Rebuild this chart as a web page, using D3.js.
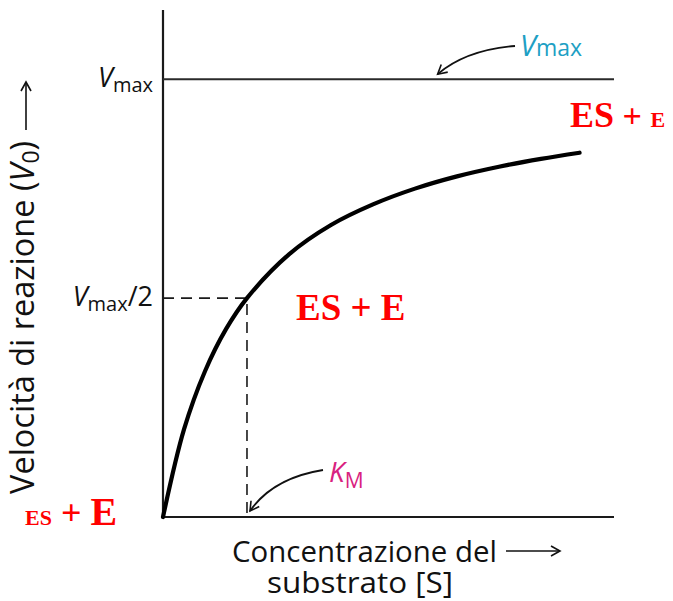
<!DOCTYPE html>
<html><head><meta charset="utf-8">
<script src="https://cdn.jsdelivr.net/npm/d3@7"></script>
<style>body{margin:0;background:#fff}</style>
</head><body>
<svg id="c" width="673" height="601"></svg>
<script>
// Substrate concentration in units of KM, velocity in units of Vmax
const substrate = [0, 0.25, 0.5, 0.75, 1, 1.5, 2, 2.5, 3, 3.5, 4, 4.5, 4.96];
const velocity  = [0, 0.2, 0.333, 0.429, 0.5, 0.6, 0.667, 0.714, 0.75, 0.778, 0.8, 0.818, 0.832];
const yTickValues = [1, 0.5];
const yTickLabels = [["V", "max", ""], ["V", "max", "/2"]];
const kmValue = 1;
const vmaxValue = 1;
const xLabelLines = ["Concentrazione del", "substrato [S]"];
const yLabelParts = ["Velocità di reazione (", "V", "0", ")"];
const xDomainMax = 5.37;
const yDomainMax = 1.158;

const svg = d3.select("#c");
const x = d3.scaleLinear().domain([0, xDomainMax]).range([163, 614]);
const y = d3.scaleLinear().domain([0, yDomainMax]).range([517, 10]);
const sans = "'Open Sans', sans-serif";
const serif = "'Liberation Serif', 'Times New Roman', serif";

const defs = svg.append("defs");
defs.append("marker").attr("id", "ah").attr("viewBox", "0 0 12 12")
  .attr("refX", 10).attr("refY", 6).attr("markerWidth", 12).attr("markerHeight", 12)
  .attr("markerUnits", "userSpaceOnUse").attr("orient", "auto")
  .append("path").attr("d", "M1,1 L10,6 L1,11").attr("fill", "none")
  .attr("stroke", "#111").attr("stroke-width", 1.6);

// Axes
svg.append("line").attr("x1", x(0)).attr("x2", x(0)).attr("y1", y(0) + 1).attr("y2", y(yDomainMax))
  .attr("stroke", "#1a1a1a").attr("stroke-width", 2.2);
svg.append("line").attr("x1", x(0) - 1).attr("x2", x(xDomainMax)).attr("y1", y(0)).attr("y2", y(0))
  .attr("stroke", "#1a1a1a").attr("stroke-width", 2.2);

// Vmax line
svg.append("line").attr("x1", x(0)).attr("x2", x(xDomainMax)).attr("y1", y(vmaxValue)).attr("y2", y(vmaxValue))
  .attr("stroke", "#2a2a2a").attr("stroke-width", 2);

// Dashed guides
svg.append("path")
  .attr("d", `M${x(0)},${y(vmaxValue/2)} L${x(kmValue)},${y(vmaxValue/2)} L${x(kmValue)},${y(0)}`)
  .attr("fill", "none").attr("stroke", "#1a1a1a").attr("stroke-width", 1.6)
  .attr("stroke-dasharray", "11,7");

// Curve
const pts = substrate.map((s, i) => [s, velocity[i]]);
svg.append("path").datum(pts)
  .attr("d", d3.line().x(d => x(d[0])).y(d => y(d[1])).curve(d3.curveCatmullRom.alpha(0.5)))
  .attr("fill", "none").attr("stroke", "#000").attr("stroke-width", 4.2).attr("stroke-linecap", "round");

// Y tick labels
yTickValues.forEach((v, i) => {
  const t = svg.append("text").attr("x", x(0) - 10).attr("y", y(v) + 8)
    .attr("text-anchor", "end").attr("font-family", sans).attr("fill", "#111").attr("font-size", 27);
  const L = yTickLabels[i];
  t.append("tspan").attr("font-style", "italic").text(L[0]);
  t.append("tspan").attr("font-size", 20).attr("dy", 5).text(L[1]);
  if (L[2]) t.append("tspan").attr("dy", -5).text(L[2]);
});

// Vmax annotation (teal)
const vt = svg.append("text").attr("x", 520).attr("y", 56).attr("font-family", sans)
  .attr("fill", "#1e9fc4").attr("font-size", 29);
vt.append("tspan").attr("font-style", "italic").text("V");
vt.append("tspan").attr("font-size", 23).attr("dy", 0).text("max");
svg.append("path").attr("d", `M515,46 Q466,50 ${x(3.27)},${y(vmaxValue) - 5}`)
  .attr("fill", "none").attr("stroke", "#111").attr("stroke-width", 1.8).attr("marker-end", "url(#ah)");

// KM annotation (magenta)
const kt = svg.append("text").attr("x", 329).attr("y", 482).attr("font-family", sans)
  .attr("fill", "#d9227f").attr("font-size", 28);
kt.append("tspan").attr("font-style", "italic").text("K");
kt.append("tspan").attr("font-size", 21).attr("dy", 6).text("M");
svg.append("path").attr("d", `M323,470 Q273,478 ${x(kmValue) + 3},${y(0) - 6}`)
  .attr("fill", "none").attr("stroke", "#111").attr("stroke-width", 1.8).attr("marker-end", "url(#ah)");

// X label
svg.append("text").attr("x", 232).attr("y", 562).attr("font-family", sans).attr("font-size", 29)
  .attr("fill", "#111").attr("textLength", 265).attr("lengthAdjust", "spacingAndGlyphs").text(xLabelLines[0]);
svg.append("text").attr("x", 267).attr("y", 593).attr("font-family", sans).attr("font-size", 29)
  .attr("fill", "#111").attr("textLength", 186).attr("lengthAdjust", "spacingAndGlyphs").text(xLabelLines[1]);
svg.append("line").attr("x1", 506).attr("x2", 560).attr("y1", 551).attr("y2", 551)
  .attr("stroke", "#111").attr("stroke-width", 1.6).attr("marker-end", "url(#ah)");

// Y label
const yl = svg.append("text").attr("transform", "translate(34,494) rotate(-90)")
  .attr("font-family", sans).attr("font-size", 32.5).attr("fill", "#111");
yl.append("tspan").text(yLabelParts[0]);
yl.append("tspan").attr("font-style", "italic").text(yLabelParts[1]);
yl.append("tspan").attr("font-size", 23).attr("dy", 5).text(yLabelParts[2]);
yl.append("tspan").attr("dy", -5).text(yLabelParts[3]);
svg.append("line").attr("x1", 26).attr("x2", 26).attr("y1", 130).attr("y2", 82)
  .attr("stroke", "#111").attr("stroke-width", 1.6).attr("marker-end", "url(#ah)");

// Red labels
const red = "#ff0000";
const r1 = svg.append("text").attr("x", 296).attr("y", 320).attr("font-family", serif)
  .attr("font-weight", "bold").attr("fill", red).attr("font-size", 37);
r1.text("ES + E");
const r2 = svg.append("text").attr("x", 570).attr("y", 127).attr("font-family", serif)
  .attr("font-weight", "bold").attr("fill", red).attr("font-size", 36);
r2.append("tspan").text("ES");
r2.append("tspan").attr("font-size", 34).text(" + ");
r2.append("tspan").attr("font-size", 22).text("E");
const r3 = svg.append("text").attr("x", 25).attr("y", 525).attr("font-family", serif)
  .attr("font-weight", "bold").attr("fill", red).attr("font-size", 22);
r3.append("tspan").text("ES");
r3.append("tspan").attr("font-size", 36).text(" + ");
r3.append("tspan").attr("font-size", 40).text("E");
</script>
</body></html>
